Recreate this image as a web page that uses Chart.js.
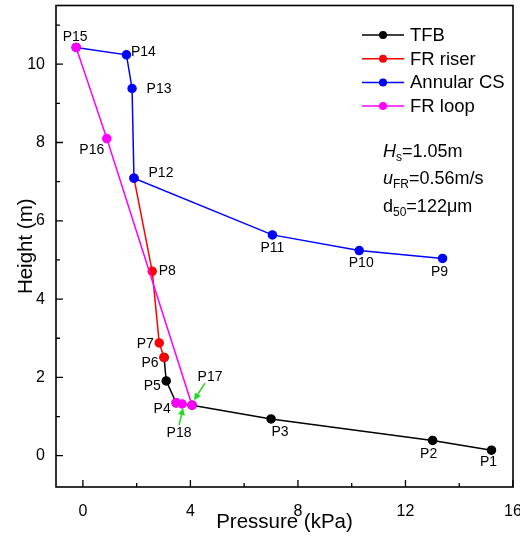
<!DOCTYPE html>
<html>
<head>
<meta charset="utf-8">
<script src="https://cdn.jsdelivr.net/npm/chart.js@4.4.1/dist/chart.umd.min.js"></script>
<style>
html, body { margin: 0; padding: 0; background: #fff; }
#wrap { width: 520px; height: 536px; }
</style>
</head>
<body>
<div id="wrap"><canvas id="pressureChart"></canvas></div>
<script>
// 시리즈 데이터 (압력 kPa, 높이 m)
const tfbNames = ['P1', 'P2', 'P3', '', 'P4', 'P5', 'P6'];
const tfbX = [15.2, 13.01, 7.0, 4.06, 3.47, 3.1, 3.02];
const tfbY = [0.14, 0.39, 0.94, 1.29, 1.35, 1.91, 2.51];

const riserNames = ['', 'P7', 'P8', ''];
const riserX = [3.02, 2.84, 2.58, 1.9];
const riserY = [2.51, 2.88, 4.71, 7.09];

const annularNames = ['P9', 'P10', 'P11', 'P12', 'P13', 'P14', 'P15'];
const annularX = [13.38, 10.28, 7.05, 1.9, 1.83, 1.62, -0.25];
const annularY = [5.04, 5.24, 5.64, 7.09, 9.38, 10.24, 10.43];

const loopNames = ['', 'P16', 'P17', 'P18', ''];
const loopX = [-0.25, 0.89, 4.06, 3.69, 3.47];
const loopY = [10.43, 8.10, 1.29, 1.32, 1.35];

const xTicks = [0, 4, 8, 12, 16];
const yTicks = [0, 2, 4, 6, 8, 10];
const xMinor = [2, 6, 10, 14];
const yMinor = [1, 3, 5, 7, 9, 11];

// 라벨 위치 (점 기준 픽셀 오프셋)
const labelOffsets = {
    P1: [-3, 12], P2: [-4, 14], P3: [9, 13], P4: [-14, 6], P5: [-14, 5],
    P6: [-14, 6], P7: [-14, 1], P8: [15, 0], P9: [-3, 14], P10: [2, 13],
    P11: [0, 13], P12: [27, -5], P13: [27, 1], P14: [17, -3], P15: [-1, -10],
    P16: [-15, 12], P17: [18, -28], P18: [-3, 29]
};

const font = '"Liberation Sans", Arial, sans-serif';

function toPoints(xs, ys) {
    return xs.map((x, i) => ({ x: x, y: ys[i] }));
}

function makeSet(label, xs, ys, names, color, order) {
    return {
        label: label,
        data: toPoints(xs, ys),
        names: names,
        borderColor: color,
        backgroundColor: color,
        pointBackgroundColor: color,
        pointBorderColor: color,
        pointRadius: 4,
        borderWidth: 1.5,
        showLine: true,
        tension: 0,
        order: order
    };
}

// 축 틱, 테두리, 라벨, 범례, 주석 그리기
const decorPlugin = {
    id: 'decor',
    afterDraw(chart) {
        const c = chart.ctx;
        const a = chart.chartArea;
        const xs = chart.scales.x;
        const ys = chart.scales.y;
        c.save();

        // 틱 (안쪽)
        c.strokeStyle = '#000';
        c.lineWidth = 1.3;
        c.beginPath();
        xTicks.forEach(v => { const p = xs.getPixelForValue(v); c.moveTo(p, a.bottom); c.lineTo(p, a.bottom - 7); });
        xMinor.forEach(v => { const p = xs.getPixelForValue(v); c.moveTo(p, a.bottom); c.lineTo(p, a.bottom - 4); });
        yTicks.forEach(v => { const p = ys.getPixelForValue(v); c.moveTo(a.left, p); c.lineTo(a.left + 7, p); });
        yMinor.forEach(v => { const p = ys.getPixelForValue(v); c.moveTo(a.left, p); c.lineTo(a.left + 4, p); });
        c.stroke();

        // 테두리
        c.lineWidth = 1.6;
        c.strokeRect(a.left, a.top, a.right - a.left, a.bottom - a.top);

        // 점 라벨
        c.fillStyle = '#000';
        c.font = '14px ' + font;
        c.textAlign = 'center';
        c.textBaseline = 'middle';
        chart.data.datasets.forEach(ds => {
            ds.data.forEach((pt, i) => {
                const name = ds.names[i];
                if (!name) return;
                const off = labelOffsets[name];
                c.fillText(name, xs.getPixelForValue(pt.x) + off[0], ys.getPixelForValue(pt.y) + off[1]);
            });
        });

        // 초록 화살표
        function arrow(x1, y1, x2, y2) {
            const ang = Math.atan2(y2 - y1, x2 - x1);
            c.strokeStyle = '#22d822';
            c.fillStyle = '#22d822';
            c.lineWidth = 1.5;
            c.beginPath();
            c.moveTo(x1, y1);
            c.lineTo(x2 - 5 * Math.cos(ang), y2 - 5 * Math.sin(ang));
            c.stroke();
            c.beginPath();
            c.moveTo(x2, y2);
            c.lineTo(x2 - 7 * Math.cos(ang) + 3.5 * Math.sin(ang), y2 - 7 * Math.sin(ang) - 3.5 * Math.cos(ang));
            c.lineTo(x2 - 7 * Math.cos(ang) - 3.5 * Math.sin(ang), y2 - 7 * Math.sin(ang) + 3.5 * Math.cos(ang));
            c.closePath();
            c.fill();
        }
        const p17x = xs.getPixelForValue(loopX[2]), p17y = ys.getPixelForValue(loopY[2]);
        const p18x = xs.getPixelForValue(loopX[3]), p18y = ys.getPixelForValue(loopY[3]);
        arrow(p17x + 13, p17y - 22, p17x + 2, p17y - 5);
        arrow(p18x - 3, p18y + 21, p18x + 1, p18y + 4);

        // 범례
        const legendX = 362, legendY = 35, rowH = 23.7;
        c.font = '18.5px ' + font;
        c.textAlign = 'left';
        chart.data.datasets.forEach((ds, i) => {
            const y = legendY + i * rowH;
            c.strokeStyle = ds.borderColor;
            c.fillStyle = ds.borderColor;
            c.lineWidth = 1.5;
            c.beginPath();
            c.moveTo(legendX, y);
            c.lineTo(legendX + 42, y);
            c.stroke();
            c.beginPath();
            c.arc(legendX + 21, y, 4, 0, Math.PI * 2);
            c.fill();
            c.fillStyle = '#000';
            c.fillText(ds.label, legendX + 48, y + 1);
        });

        // 조건 주석 (아래첨자 포함)
        c.textBaseline = 'alphabetic';
        function sub(x, y, main, italic, subText, rest) {
            c.font = (italic ? 'italic ' : '') + '18px ' + font;
            c.fillText(main, x, y);
            x += c.measureText(main).width;
            c.font = '12px ' + font;
            c.fillText(subText, x, y + 4);
            x += c.measureText(subText).width;
            c.font = '18px ' + font;
            c.fillText(rest, x, y);
        }
        c.fillStyle = '#000';
        sub(383, 157, 'H', true, 's', '=1.05m');
        sub(383, 184, 'u', true, 'FR', '=0.56m/s');
        sub(383, 212, 'd', false, '50', '=122\u03bcm');

        c.restore();
    }
};

const ctx = document.getElementById('pressureChart').getContext('2d');
const pressureChart = new Chart(ctx, {
    type: 'scatter',
    data: {
        datasets: [
            makeSet('TFB', tfbX, tfbY, tfbNames, '#000000', 4),
            makeSet('FR riser', riserX, riserY, riserNames, '#ff0000', 3),
            makeSet('Annular CS', annularX, annularY, annularNames, '#0000ff', 2),
            makeSet('FR loop', loopX, loopY, loopNames, '#ff00ff', 1)
        ]
    },
    options: {
        responsive: true,
        maintainAspectRatio: false,
        animation: false,
        layout: { padding: { top: 5, right: 7, left: 0, bottom: 0 } },
        plugins: {
            legend: { display: false },
            tooltip: { enabled: false }
        },
        scales: {
            x: {
                type: 'linear',
                min: -1,
                max: 16,
                grid: { display: false, drawTicks: false },
                border: { display: false },
                afterBuildTicks: s => { s.ticks = xTicks.map(v => ({ value: v })); },
                afterFit: s => { s.height = 49; s.paddingLeft = 0; s.paddingRight = 0; },
                ticks: { color: '#000', font: { family: font, size: 16 }, padding: 15 },
                title: {
                    display: true,
                    text: 'Pressure (kPa)',
                    color: '#000',
                    font: { family: font, size: 20.5 },
                    padding: { top: 0, bottom: 1 }
                }
            },
            y: {
                type: 'linear',
                min: -0.8,
                max: 11.5,
                grid: { display: false, drawTicks: false },
                border: { display: false },
                afterBuildTicks: s => { s.ticks = yTicks.map(v => ({ value: v })); },
                afterFit: s => { s.width = 56; s.paddingTop = 0; s.paddingBottom = 0; },
                ticks: { color: '#000', font: { family: font, size: 16 }, padding: 11 },
                title: {
                    display: true,
                    text: 'Height (m)',
                    color: '#000',
                    font: { family: font, size: 20.5 },
                    padding: { top: 14, bottom: 0 }
                }
            }
        }
    },
    plugins: [decorPlugin]
});
</script>
</body>
</html>
